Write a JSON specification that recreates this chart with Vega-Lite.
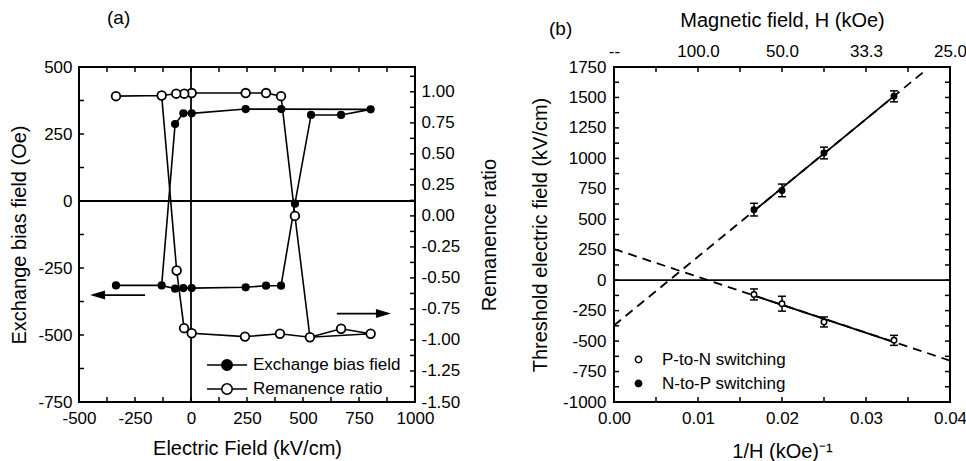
{
  "$schema": "https://vega.github.io/schema/vega-lite/v6.json",
  "padding": {"left": 8, "top": 8, "right": 0, "bottom": 0},
  "background": "white",
  "bounds": "flush",
  "spacing": 199,
  "resolve": {"scale": {"fill": "independent"}, "legend": {"fill": "independent"}},
  "datasets": {
    "exchPath": [
      {"seq": 1, "E": -335, "Oe": -315},
      {"seq": 2, "E": -131, "Oe": -315},
      {"seq": 3, "E": -71, "Oe": 287},
      {"seq": 4, "E": -34, "Oe": 327},
      {"seq": 5, "E": 3, "Oe": 327},
      {"seq": 6, "E": 244, "Oe": 343},
      {"seq": 7, "E": 403, "Oe": 343},
      {"seq": 8, "E": 802, "Oe": 342},
      {"seq": 9, "E": 670, "Oe": 321},
      {"seq": 10, "E": 536, "Oe": 321},
      {"seq": 11, "E": 464, "Oe": -10},
      {"seq": 12, "E": 402, "Oe": -316},
      {"seq": 13, "E": 335, "Oe": -316},
      {"seq": 14, "E": 244, "Oe": -322},
      {"seq": 15, "E": 3, "Oe": -325},
      {"seq": 16, "E": -34, "Oe": -325},
      {"seq": 17, "E": -71, "Oe": -327},
      {"seq": 18, "E": -131, "Oe": -315}
    ],
    "remPath": [
      {"seq": 1, "E": -335, "R": 0.965},
      {"seq": 2, "E": -131, "R": 0.97},
      {"seq": 3, "E": -64, "R": -0.44},
      {"seq": 4, "E": -31, "R": -0.905},
      {"seq": 5, "E": 3, "R": -0.946},
      {"seq": 6, "E": 241, "R": -0.973},
      {"seq": 7, "E": 397, "R": -0.95},
      {"seq": 8, "E": 531, "R": -0.978},
      {"seq": 9, "E": 670, "R": -0.91},
      {"seq": 10, "E": 802, "R": -0.95},
      {"seq": 11, "E": 531, "R": -0.978},
      {"seq": 12, "E": 464, "R": 0.0},
      {"seq": 13, "E": 402, "R": 0.965},
      {"seq": 14, "E": 335, "R": 0.99},
      {"seq": 15, "E": 244, "R": 0.99},
      {"seq": 16, "E": 3, "R": 0.99},
      {"seq": 17, "E": -30, "R": 0.985},
      {"seq": 18, "E": -66, "R": 0.985},
      {"seq": 19, "E": -131, "R": 0.97}
    ],
    "exchPts": [
      {"series": "Exchange bias field", "E": -335, "Oe": -315},
      {"series": "Exchange bias field", "E": -131, "Oe": -315},
      {"series": "Exchange bias field", "E": -71, "Oe": 287},
      {"series": "Exchange bias field", "E": -34, "Oe": 327},
      {"series": "Exchange bias field", "E": 3, "Oe": 327},
      {"series": "Exchange bias field", "E": 244, "Oe": 343},
      {"series": "Exchange bias field", "E": 403, "Oe": 343},
      {"series": "Exchange bias field", "E": 802, "Oe": 342},
      {"series": "Exchange bias field", "E": 670, "Oe": 321},
      {"series": "Exchange bias field", "E": 536, "Oe": 321},
      {"series": "Exchange bias field", "E": 464, "Oe": -10},
      {"series": "Exchange bias field", "E": 402, "Oe": -316},
      {"series": "Exchange bias field", "E": 335, "Oe": -316},
      {"series": "Exchange bias field", "E": 244, "Oe": -322},
      {"series": "Exchange bias field", "E": 3, "Oe": -325},
      {"series": "Exchange bias field", "E": -34, "Oe": -325},
      {"series": "Exchange bias field", "E": -71, "Oe": -327}
    ],
    "remPts": [
      {"series": "Remanence ratio", "E": -335, "R": 0.965},
      {"series": "Remanence ratio", "E": -131, "R": 0.97},
      {"series": "Remanence ratio", "E": -64, "R": -0.44},
      {"series": "Remanence ratio", "E": -31, "R": -0.905},
      {"series": "Remanence ratio", "E": 3, "R": -0.946},
      {"series": "Remanence ratio", "E": 241, "R": -0.973},
      {"series": "Remanence ratio", "E": 397, "R": -0.95},
      {"series": "Remanence ratio", "E": 531, "R": -0.978},
      {"series": "Remanence ratio", "E": 670, "R": -0.91},
      {"series": "Remanence ratio", "E": 802, "R": -0.95},
      {"series": "Remanence ratio", "E": 464, "R": 0.0},
      {"series": "Remanence ratio", "E": 402, "R": 0.965},
      {"series": "Remanence ratio", "E": 335, "R": 0.99},
      {"series": "Remanence ratio", "E": 244, "R": 0.99},
      {"series": "Remanence ratio", "E": 3, "R": 0.99},
      {"series": "Remanence ratio", "E": -30, "R": 0.985},
      {"series": "Remanence ratio", "E": -66, "R": 0.985}
    ],
    "arrows": [
      {"dir": "left", "from": -205, "to": -417, "Oe": -351},
      {"dir": "right", "from": 651, "to": 859, "Oe": -420}
    ],
    "aTicksE": [{"v": -375}, {"v": -250}, {"v": -125}, {"v": 0}, {"v": 125}, {"v": 250}, {"v": 375}, {"v": 500}, {"v": 625}, {"v": 750}, {"v": 875}],
    "aTicksOe": [{"v": -625}, {"v": -500}, {"v": -375}, {"v": -250}, {"v": -125}, {"v": 0}, {"v": 125}, {"v": 250}, {"v": 375}],
    "aTicksR": [{"v": -1.375}, {"v": -1.25}, {"v": -1.125}, {"v": -1}, {"v": -0.875}, {"v": -0.75}, {"v": -0.625}, {"v": -0.5}, {"v": -0.375}, {"v": -0.25}, {"v": -0.125}, {"v": 0}, {"v": 0.125}, {"v": 0.25}, {"v": 0.375}, {"v": 0.5}, {"v": 0.625}, {"v": 0.75}, {"v": 0.875}, {"v": 1}, {"v": 1.125}],
    "bTicksX": [{"v": 0.005}, {"v": 0.01}, {"v": 0.015}, {"v": 0.02}, {"v": 0.025}, {"v": 0.03}, {"v": 0.035}],
    "bTicksY": [{"v": -875}, {"v": -750}, {"v": -625}, {"v": -500}, {"v": -375}, {"v": -250}, {"v": -125}, {"v": 0}, {"v": 125}, {"v": 250}, {"v": 375}, {"v": 500}, {"v": 625}, {"v": 750}, {"v": 875}, {"v": 1000}, {"v": 1125}, {"v": 1250}, {"v": 1375}, {"v": 1500}, {"v": 1625}],
    "switching": [
      {"kind": "P-to-N switching", "x": 0.016667, "y": -117, "lo": -162, "hi": -72},
      {"kind": "P-to-N switching", "x": 0.02, "y": -193, "lo": -254, "hi": -132},
      {"kind": "P-to-N switching", "x": 0.025, "y": -343, "lo": -384, "hi": -302},
      {"kind": "P-to-N switching", "x": 0.033333, "y": -494, "lo": -535, "hi": -453},
      {"kind": "N-to-P switching", "x": 0.016667, "y": 579, "lo": 527, "hi": 631},
      {"kind": "N-to-P switching", "x": 0.02, "y": 737, "lo": 685, "hi": 789},
      {"kind": "N-to-P switching", "x": 0.025, "y": 1044, "lo": 996, "hi": 1092},
      {"kind": "N-to-P switching", "x": 0.033333, "y": 1509, "lo": 1464, "hi": 1554}
    ],
    "fitDashed": [
      {"kind": "P-to-N", "x": 0, "y": 256},
      {"kind": "P-to-N", "x": 0.04, "y": -660},
      {"kind": "N-to-P", "x": 0, "y": -372},
      {"kind": "N-to-P", "x": 0.0372, "y": 1729}
    ],
    "fitSolid": [
      {"kind": "P-to-N", "x": 0.016667, "y": -126},
      {"kind": "P-to-N", "x": 0.033333, "y": -508},
      {"kind": "N-to-P", "x": 0.016667, "y": 569},
      {"kind": "N-to-P", "x": 0.033333, "y": 1511}
    ]
  },
  "hconcat": [
    {
      "width": 336,
      "height": 335,
      "title": {"text": "(a)", "anchor": "start", "frame": "group", "dx": 28, "offset": 30, "fontSize": 19, "fontWeight": "normal", "color": "black", "font": "Liberation Sans"},
      "layer": [
        {
          "data": {"values": [{}]},
          "mark": {"type": "rule", "color": "black", "strokeWidth": 1.8},
          "encoding": {
            "y": {"datum": 0, "type": "quantitative", "scale": {"domain": [-750, 500], "nice": false, "zero": false}, "axis": null}
          }
        },
        {
          "data": {"values": [{}]},
          "mark": {"type": "rule", "color": "black", "strokeWidth": 1.8},
          "encoding": {
            "x": {"datum": 0, "type": "quantitative", "scale": {"domain": [-500, 1000], "nice": false, "zero": false}, "axis": null}
          }
        },
        {
          "data": {"name": "aTicksE"},
          "mark": {"type": "rule", "color": "black", "strokeWidth": 1.5},
          "encoding": {
            "x": {"field": "v", "type": "quantitative", "scale": {"domain": [-500, 1000], "nice": false, "zero": false}, "axis": null},
            "y": {"datum": -750, "type": "quantitative", "scale": {"domain": [-750, 500], "nice": false, "zero": false}, "axis": null},
            "y2": {"datum": -731}
          }
        },
        {
          "data": {"name": "aTicksE"},
          "mark": {"type": "rule", "color": "black", "strokeWidth": 1.5},
          "encoding": {
            "x": {"field": "v", "type": "quantitative", "scale": {"domain": [-500, 1000], "nice": false, "zero": false}, "axis": null},
            "y": {"datum": 500, "type": "quantitative", "scale": {"domain": [-750, 500], "nice": false, "zero": false}, "axis": null},
            "y2": {"datum": 481}
          }
        },
        {
          "data": {"name": "aTicksOe"},
          "mark": {"type": "rule", "color": "black", "strokeWidth": 1.5},
          "encoding": {
            "x": {"datum": -500, "type": "quantitative", "scale": {"domain": [-500, 1000], "nice": false, "zero": false}, "axis": null},
            "x2": {"datum": -478},
            "y": {"field": "v", "type": "quantitative", "scale": {"domain": [-750, 500], "nice": false, "zero": false}, "axis": null}
          }
        },
        {
          "data": {"name": "aTicksR"},
          "mark": {"type": "rule", "color": "black", "strokeWidth": 1.5},
          "encoding": {
            "x": {"datum": 1000, "type": "quantitative", "scale": {"domain": [-500, 1000], "nice": false, "zero": false}, "axis": null},
            "x2": {"datum": 978},
            "y": {"field": "v", "type": "quantitative", "scale": {"domain": [-1.5, 1.2], "nice": false, "zero": false}, "axis": null}
          }
        },
        {
          "data": {"name": "exchPath"},
          "mark": {"type": "line", "color": "black", "strokeWidth": 1.6},
          "encoding": {
            "x": {"field": "E", "type": "quantitative", "scale": {"domain": [-500, 1000], "nice": false, "zero": false},
              "axis": {"orient": "bottom", "title": "Electric Field (kV/cm)", "values": [-500, -250, 0, 250, 500, 750, 1000],
                "labelExpr": "'' + datum.value", "labelPadding": 8, "titlePadding": 12}},
            "y": {"field": "Oe", "type": "quantitative", "scale": {"domain": [-750, 500], "nice": false, "zero": false},
              "axis": {"orient": "left", "title": "Exchange bias field (Oe)", "values": [-750, -500, -250, 0, 250, 500],
                "labelExpr": "'' + datum.value", "labelPadding": 7, "titlePadding": 8}},
            "order": {"field": "seq", "type": "quantitative"}
          }
        },
        {
          "data": {"name": "remPath"},
          "mark": {"type": "line", "color": "black", "strokeWidth": 1.6},
          "encoding": {
            "x": {"field": "E", "type": "quantitative", "scale": {"domain": [-500, 1000], "nice": false, "zero": false}, "axis": null},
            "y": {"field": "R", "type": "quantitative", "scale": {"domain": [-1.5, 1.2], "nice": false, "zero": false},
              "axis": {"orient": "right", "title": "Remanence ratio", "titleAngle": 270, "titleBaseline": "top",
                "values": [-1.5, -1.25, -1, -0.75, -0.5, -0.25, 0, 0.25, 0.5, 0.75, 1],
                "labelExpr": "replace(format(datum.value, '.2f'), '\u2212', '-')", "labelPadding": 6, "titlePadding": 20}},
            "order": {"field": "seq", "type": "quantitative"}
          }
        },
        {
          "data": {"name": "exchPts"},
          "mark": {"type": "point", "shape": "circle", "filled": true, "stroke": "black", "strokeWidth": 1.5, "size": 45, "opacity": 1},
          "encoding": {
            "x": {"field": "E", "type": "quantitative", "scale": {"domain": [-500, 1000], "nice": false, "zero": false}, "axis": null},
            "y": {"field": "Oe", "type": "quantitative", "scale": {"domain": [-750, 500], "nice": false, "zero": false}, "axis": null},
            "fill": {"field": "series", "type": "nominal",
              "scale": {"domain": ["Exchange bias field", "Remanence ratio"], "range": ["black", "white"]},
              "legend": {"title": null, "orient": "none", "legendX": 137, "legendY": 287, "padding": 0, "symbolType": "M-2,0H-0.52M0.52,0H2M-0.52,0A0.52,0.52,0,1,1,0.52,0A0.52,0.52,0,1,1,-0.52,0Z",
                "symbolSize": 400, "symbolStrokeColor": "black", "symbolStrokeWidth": 1.6, "labelFontSize": 17, "rowPadding": 4, "labelOffset": 15}}
          }
        },
        {
          "data": {"name": "remPts"},
          "mark": {"type": "point", "shape": "circle", "filled": true, "stroke": "black", "strokeWidth": 1.8, "size": 75, "opacity": 1},
          "encoding": {
            "x": {"field": "E", "type": "quantitative", "scale": {"domain": [-500, 1000], "nice": false, "zero": false}, "axis": null},
            "y": {"field": "R", "type": "quantitative", "scale": {"domain": [-1.5, 1.2], "nice": false, "zero": false}, "axis": null},
            "fill": {"field": "series", "type": "nominal",
              "scale": {"domain": ["Exchange bias field", "Remanence ratio"], "range": ["black", "white"]}}
          }
        },
        {
          "data": {"name": "arrows"},
          "mark": {"type": "rule", "color": "black", "strokeWidth": 1.8},
          "encoding": {
            "x": {"field": "from", "type": "quantitative", "scale": {"domain": [-500, 1000], "nice": false, "zero": false}, "axis": null},
            "x2": {"field": "to"},
            "y": {"field": "Oe", "type": "quantitative", "scale": {"domain": [-750, 500], "nice": false, "zero": false}, "axis": null}
          }
        },
        {
          "data": {"name": "arrows"},
          "mark": {"type": "point", "filled": true, "color": "black", "opacity": 1, "size": 225, "strokeWidth": 0},
          "encoding": {
            "x": {"field": "to", "type": "quantitative", "scale": {"domain": [-500, 1000], "nice": false, "zero": false}, "axis": null},
            "y": {"field": "Oe", "type": "quantitative", "scale": {"domain": [-750, 500], "nice": false, "zero": false}, "axis": null},
            "shape": {"field": "dir", "type": "nominal", "scale": {"domain": ["left", "right"], "range": ["M-1,0L1,-0.6L1,0.6Z", "M1,0L-1,-0.6L-1,0.6Z"]}, "legend": null}
          }
        }
      ],
      "resolve": {"scale": {"y": "independent"}, "axis": {"x": "independent", "y": "independent"}}
    },
    {
      "width": 336,
      "height": 335,
      "title": {"text": "(b)", "anchor": "start", "frame": "group", "dx": -65, "offset": 0, "dy": 29, "fontSize": 19, "fontWeight": "normal", "color": "black", "font": "Liberation Sans"},
      "layer": [
        {
          "data": {"values": [{}]},
          "mark": {"type": "rule", "color": "black", "strokeWidth": 1.8},
          "encoding": {
            "y": {"datum": 0, "type": "quantitative", "scale": {"domain": [-1000, 1750], "nice": false, "zero": false}, "axis": null}
          }
        },
        {
          "data": {"name": "bTicksX"},
          "mark": {"type": "rule", "color": "black", "strokeWidth": 1.5},
          "encoding": {
            "x": {"field": "v", "type": "quantitative", "scale": {"domain": [0, 0.04], "nice": false, "zero": false}, "axis": null},
            "y": {"datum": -1000, "type": "quantitative", "scale": {"domain": [-1000, 1750], "nice": false, "zero": false}, "axis": null},
            "y2": {"datum": -959}
          }
        },
        {
          "data": {"name": "bTicksX"},
          "mark": {"type": "rule", "color": "black", "strokeWidth": 1.5},
          "encoding": {
            "x": {"field": "v", "type": "quantitative", "scale": {"domain": [0, 0.04], "nice": false, "zero": false}, "axis": null},
            "y": {"datum": 1750, "type": "quantitative", "scale": {"domain": [-1000, 1750], "nice": false, "zero": false}, "axis": null},
            "y2": {"datum": 1709}
          }
        },
        {
          "data": {"name": "bTicksY"},
          "mark": {"type": "rule", "color": "black", "strokeWidth": 1.5},
          "encoding": {
            "x": {"datum": 0, "type": "quantitative", "scale": {"domain": [0, 0.04], "nice": false, "zero": false}, "axis": null},
            "x2": {"datum": 0.0006},
            "y": {"field": "v", "type": "quantitative", "scale": {"domain": [-1000, 1750], "nice": false, "zero": false}, "axis": null}
          }
        },
        {
          "data": {"name": "bTicksY"},
          "mark": {"type": "rule", "color": "black", "strokeWidth": 1.5},
          "encoding": {
            "x": {"datum": 0.04, "type": "quantitative", "scale": {"domain": [0, 0.04], "nice": false, "zero": false}, "axis": null},
            "x2": {"datum": 0.0394},
            "y": {"field": "v", "type": "quantitative", "scale": {"domain": [-1000, 1750], "nice": false, "zero": false}, "axis": null}
          }
        },
        {
          "data": {"name": "fitDashed"},
          "mark": {"type": "line", "color": "black", "strokeWidth": 1.8, "strokeDash": [9, 6]},
          "encoding": {
            "detail": {"field": "kind"},
            "x": {"field": "x", "type": "quantitative", "scale": {"domain": [0, 0.04], "nice": false, "zero": false},
              "axis": {"orient": "bottom", "title": "1/H (kOe)\u207b\u00b9", "values": [0, 0.01, 0.02, 0.03, 0.04],
                "labelExpr": "format(datum.value, '.2f')", "labelPadding": 8, "titlePadding": 15}},
            "y": {"field": "y", "type": "quantitative", "scale": {"domain": [-1000, 1750], "nice": false, "zero": false},
              "axis": {"orient": "left", "title": "Threshold electric field (kV/cm)", "values": [-1000, -750, -500, -250, 0, 250, 500, 750, 1000, 1250, 1500, 1750],
                "labelExpr": "'' + datum.value", "labelPadding": 8, "titlePadding": 12}}
          }
        },
        {
          "data": {"name": "fitSolid"},
          "mark": {"type": "line", "color": "black", "strokeWidth": 1.8},
          "encoding": {
            "detail": {"field": "kind"},
            "x": {"field": "x", "type": "quantitative", "scale": {"domain": [0, 0.04], "nice": false, "zero": false},
              "axis": {"orient": "top", "title": "Magnetic field, H (kOe)", "values": [0, 0.01, 0.02, 0.03, 0.04],
                "labelExpr": "datum.value === 0 ? '--' : format(1/datum.value, '.1f')", "labelPadding": 7, "titlePadding": 12}},
            "y": {"field": "y", "type": "quantitative", "scale": {"domain": [-1000, 1750], "nice": false, "zero": false}, "axis": null}
          }
        },
        {
          "data": {"name": "switching"},
          "mark": {"type": "rule", "color": "black", "strokeWidth": 1.5},
          "encoding": {
            "x": {"field": "x", "type": "quantitative", "scale": {"domain": [0, 0.04], "nice": false, "zero": false}, "axis": null},
            "y": {"field": "lo", "type": "quantitative", "scale": {"domain": [-1000, 1750], "nice": false, "zero": false}, "axis": null},
            "y2": {"field": "hi"}
          }
        },
        {
          "data": {"name": "switching"},
          "mark": {"type": "tick", "color": "black", "orient": "horizontal", "size": 8, "thickness": 1.5, "opacity": 1},
          "encoding": {
            "x": {"field": "x", "type": "quantitative", "scale": {"domain": [0, 0.04], "nice": false, "zero": false}, "axis": null},
            "y": {"field": "lo", "type": "quantitative", "scale": {"domain": [-1000, 1750], "nice": false, "zero": false}, "axis": null}
          }
        },
        {
          "data": {"name": "switching"},
          "mark": {"type": "tick", "color": "black", "orient": "horizontal", "size": 8, "thickness": 1.5, "opacity": 1},
          "encoding": {
            "x": {"field": "x", "type": "quantitative", "scale": {"domain": [0, 0.04], "nice": false, "zero": false}, "axis": null},
            "y": {"field": "hi", "type": "quantitative", "scale": {"domain": [-1000, 1750], "nice": false, "zero": false}, "axis": null}
          }
        },
        {
          "data": {"name": "switching"},
          "mark": {"type": "point", "shape": "circle", "filled": true, "stroke": "black", "strokeWidth": 1.5, "size": 30, "opacity": 1},
          "encoding": {
            "x": {"field": "x", "type": "quantitative", "scale": {"domain": [0, 0.04], "nice": false, "zero": false}, "axis": null},
            "y": {"field": "y", "type": "quantitative", "scale": {"domain": [-1000, 1750], "nice": false, "zero": false}, "axis": null},
            "fill": {"field": "kind", "type": "nominal",
              "scale": {"domain": ["P-to-N switching", "N-to-P switching"], "range": ["white", "black"]},
              "legend": {"title": null, "orient": "none", "legendX": 16, "legendY": 284, "padding": 0, "symbolType": "circle", "symbolSize": 40,
                "symbolStrokeColor": "black", "symbolStrokeWidth": 1.5, "labelFontSize": 17, "rowPadding": 6, "labelOffset": 15}}
          }
        }
      ],
      "resolve": {"axis": {"x": "independent", "y": "independent"}}
    }
  ],
  "config": {
    "font": "Liberation Sans",
    "view": {"stroke": "black", "strokeWidth": 2},
    "axis": {
      "domain": false, "ticks": false, "grid": false, "offset": 0,
      "labelPadding": 8, "labelFontSize": 17, "titleFontSize": 20, "titleFontWeight": "normal",
      "labelColor": "black", "titleColor": "black", "labelFont": "Liberation Sans", "titleFont": "Liberation Sans",
      "labelFlush": false, "labelOverlap": false, "labelBound": false
    },
    "legend": {"labelFontSize": 17, "labelColor": "black", "labelFont": "Liberation Sans"}
  }
}
